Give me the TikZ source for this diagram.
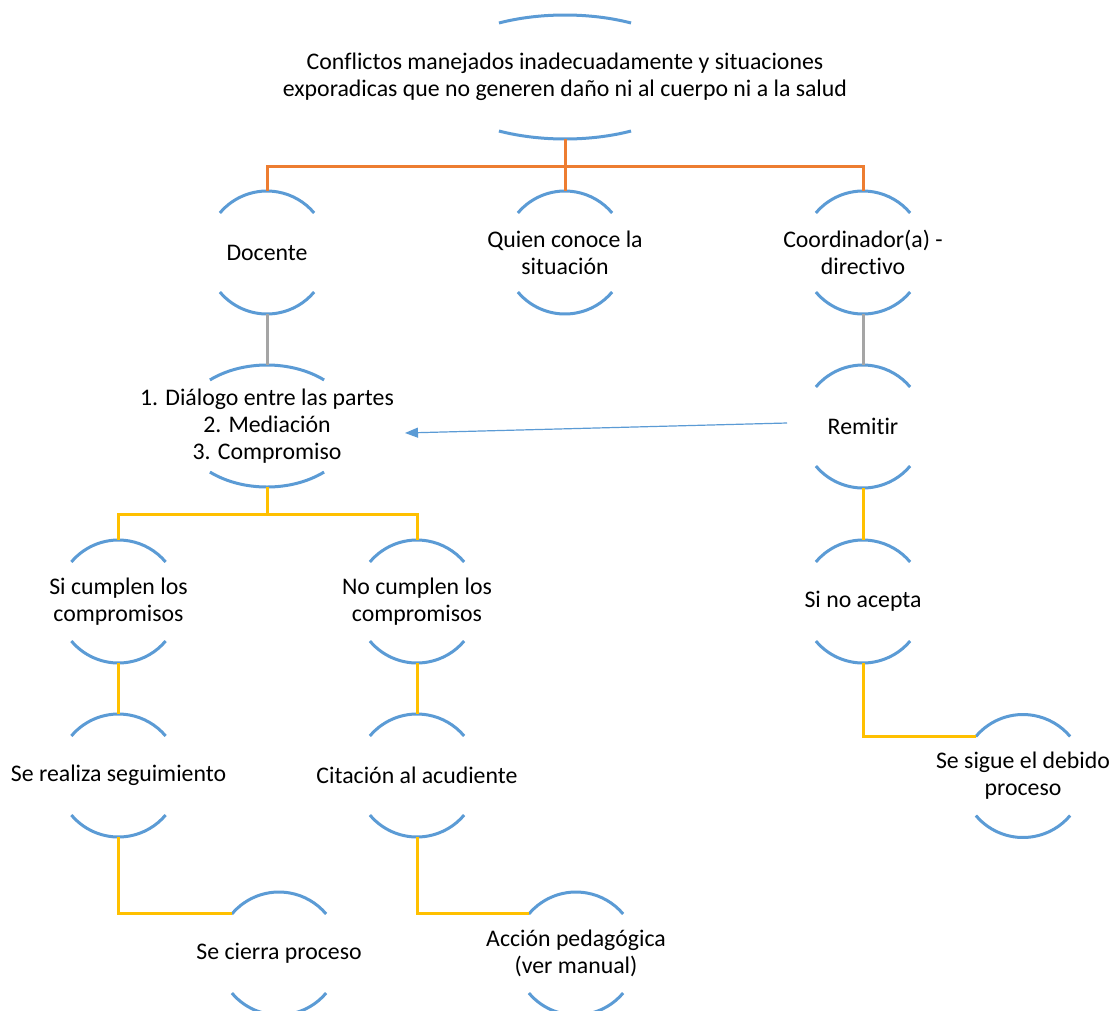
\documentclass[tikz,border=0pt]{standalone}
\usepackage{fontspec}
\setmainfont{Carlito}[Ligatures=NoCommon]
\usetikzlibrary{arrows.meta,calc}
\definecolor{arcblue}{HTML}{5B9BD5}
\definecolor{conorange}{HTML}{ED7D31}
\definecolor{congray}{HTML}{A5A5A5}
\definecolor{conyellow}{HTML}{FFC000}
\newcommand\bnode[7]{%
 \node[txt] (#1) at (#2,-#3) {#7};
 \draw[arcst] (#2,-#3) ++({-#4*cos(#6)},{#5*sin(#6)}) arc[start angle={180-#6}, end angle=#6, x radius=#4pt, y radius=#5pt];
 \draw[arcst] (#2,-#3) ++({-#4*cos(#6)},{-#5*sin(#6)}) arc[start angle={180+#6}, end angle={360-#6}, x radius=#4pt, y radius=#5pt];
 \coordinate (#1-t) at (#2,-#3+#5);
 \coordinate (#1-b) at (#2,-#3-#5);
 \coordinate (#1-l) at ({#2-#4*cos(#6)},{-#3+#5*sin(#6)});
}
\begin{document}
\begin{tikzpicture}[x=1pt,y=1pt,
  txt/.style={font=\fontsize{23.8pt}{27pt}\selectfont, align=center, inner sep=0pt, text=black},
  arcst/.style={draw=arcblue, line width=3pt},
  orangeline/.style={draw=conorange, line width=3pt},
  grayline/.style={draw=congray, line width=3pt},
  yellowline/.style={draw=conyellow, line width=3pt},
  bluearrow/.style={draw=arcblue, line width=1.2pt, -{Triangle[length=13pt,width=10pt]}}]
\clip (0,0) rectangle (1113,-1010);
\fill[white] (0,0) rectangle (1113,-1010);
% nodes
\bnode{T}{565}{77}{134.5}{62}{60.6}{Conflictos manejados inadecuadamente y situaciones\\exporadicas que no generen daño ni al cuerpo ni a la salud}
\bnode{D}{267}{252.5}{61.5}{61.5}{40}{Docente}
\bnode{Q}{565}{252.5}{61.5}{61.5}{40}{Quien conoce la\\situación}
\bnode{C}{863}{252.5}{61.5}{61.5}{40}{Coordinador(a) -\\directivo}
\bnode{Dia}{267}{426}{87}{61}{49}{1. Diálogo entre las partes\\2. Mediación\\3. Compromiso}
\bnode{R}{863}{426.5}{61.5}{61.5}{40}{Remitir}
\bnode{S}{118.5}{601.5}{61.5}{61.5}{40}{Si cumplen los\\compromisos}
\bnode{N}{417}{601.5}{61.5}{61.5}{40}{No cumplen los\\compromisos}
\bnode{A}{863}{601.5}{61.5}{61.5}{40}{Si no acepta}
\bnode{Se}{118.5}{775.5}{61.5}{61.5}{40}{Se realiza seguimiento}
\bnode{Ci}{417}{775.5}{61.5}{61.5}{40}{Citación al acudiente}
\bnode{Sig}{1023}{776}{61.5}{61.5}{40}{Se sigue el debido\\proceso}
\bnode{Cie}{279}{953.5}{61.5}{61.5}{40}{Se cierra proceso}
\bnode{Acc}{576}{953.5}{61.5}{61.5}{40}{Acción pedagógica\\(ver manual)}
% junctions
\coordinate (j1) at (565,-166);
\coordinate (j2) at (267,-514);
\coordinate (arrS) at (787,-423);
\coordinate (arrE) at (405,-433);
% connectors
\draw[orangeline] (T-b) -- (j1);
\draw[orangeline] (j1) -| (D-t);
\draw[orangeline] (j1) -| (C-t);
\draw[orangeline] (j1) -- (Q-t);
\draw[grayline] (D-b) -- (Dia-t);
\draw[grayline] (C-b) -- (R-t);
\draw[yellowline] (Dia-b) -- (j2);
\draw[yellowline] (j2) -| (S-t);
\draw[yellowline] (j2) -| (N-t);
\draw[yellowline] (R-b) -- (A-t);
\draw[yellowline] (S-b) -- (Se-t);
\draw[yellowline] (N-b) -- (Ci-t);
\draw[yellowline] (Se-b) |- (Cie-l);
\draw[yellowline] (Ci-b) |- (Acc-l);
\draw[yellowline] (A-b) |- (Sig-l);
\draw[bluearrow] (arrS) -- (arrE);
\end{tikzpicture}
\end{document}
